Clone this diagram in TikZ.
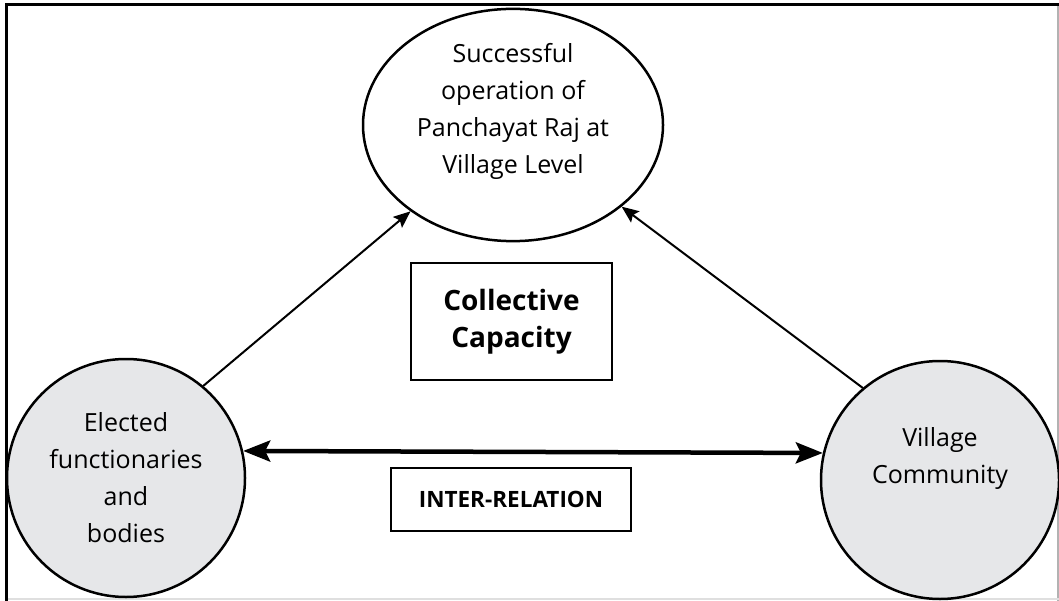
\documentclass[tikz,border=0pt]{standalone}
\usepackage{fontspec}
\setmainfont{Open Sans}
\usepackage{tikz}
\usetikzlibrary{arrows.meta,shapes.geometric}
\definecolor{discgray}{HTML}{E6E7E9}

\begin{document}
\begin{tikzpicture}[>=Stealth, x=1pt, y=-1pt,
  every node/.style={font=\fontsize{25}{37}\selectfont, align=center},
  disc/.style={circle, draw, line width=2.5pt, fill=discgray, minimum size=238pt, inner sep=0pt},
  box/.style={draw, line width=1.2pt, inner sep=0pt},
  link/.style={-{Stealth[length=17pt, width=14pt, inset=3pt]}, line width=2pt},
  relation/.style={{Stealth[length=27pt, width=21pt, inset=5pt]}-{Stealth[length=27pt, width=21pt, inset=5pt]}, line width=4.5pt}]
  \useasboundingbox (0,0) rectangle (1059,601);
  % frame
  \draw[gray!60, line width=1.5pt] (1058,5) -- (1058,601);
  \draw[gray!25, line width=1.5pt] (5,599) -- (1059,599);
  \draw[line width=3pt] (6,601) -- (6,5) -- (1059,5);
  % goal on top
  \node[ellipse, draw, line width=2.5pt, fill=white, minimum width=300pt, minimum height=220pt, inner sep=0pt] (goal) at (513,125)
    {Successful\\operation of\\Panchayat Raj at\\Village Level\\[-14pt]\strut};
  % the two partners
  \node[disc] (elected) at (126,478) {Elected\\functionaries\\and\\bodies};
  \node[disc] (village) at (940,480) {Village\\Community\\\strut};
  % boxes in the middle
  \node[box, minimum width=201pt, minimum height=117pt, font=\fontsize{28}{37}\selectfont\bfseries] (capacity) at (511.5,321.5) {Collective\\Capacity};
  \node[box, minimum width=240pt, minimum height=63pt, font=\fontsize{22.5}{30}\selectfont\bfseries] (interrel) at (511,499.5) {INTER-RELATION};
  % arrows
  \draw[link] (elected.50) -- (goal);
  \draw[link] (village.130) -- (goal);
  \draw[relation] (elected.13) -- (village.167);
\end{tikzpicture}
\end{document}
